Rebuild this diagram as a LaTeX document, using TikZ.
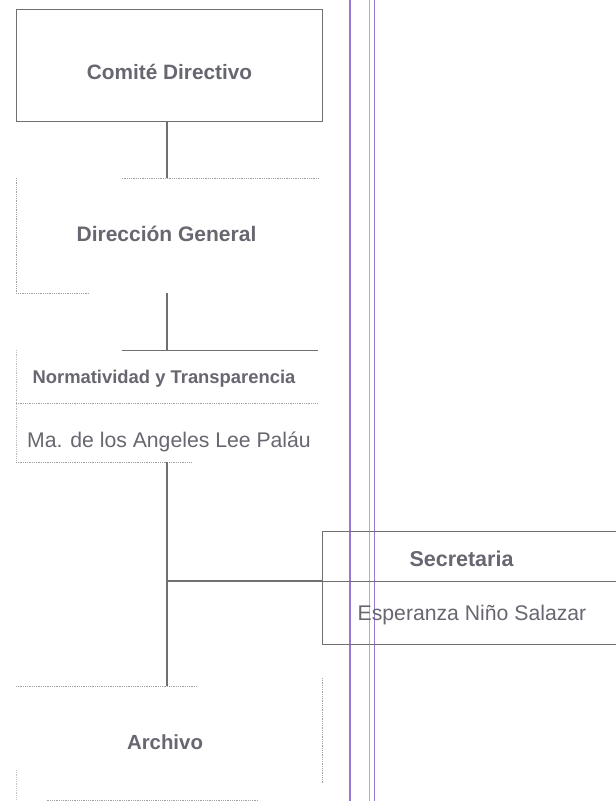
\documentclass[tikz,border=0pt]{standalone}
\usepackage{fontspec}
\setmainfont{Liberation Sans}
\usetikzlibrary{calc}
\definecolor{inkgray}{RGB}{104,102,112}
\definecolor{linegray}{RGB}{112,112,116}
\definecolor{faintgray}{RGB}{160,160,168}
\definecolor{rulepurple}{RGB}{150,120,215}
\definecolor{rulelilac}{RGB}{185,165,230}
\tikzset{
  frame/.style={draw=none, minimum width=#1, inner sep=0pt, outer sep=0pt},
  title/.style={anchor=base, text=inkgray, font=\bfseries\fontsize{21}{24}\selectfont, inner sep=0pt},
  person/.style={anchor=base, text=inkgray, font=\fontsize{21.2}{24}\selectfont, inner sep=0pt},
  solidedge/.style={draw=linegray, line width=0.9pt},
  softedge/.style={draw=faintgray, line width=0.8pt, densely dotted},
  link/.style={draw=linegray, line width=1.3pt},
}
\begin{document}
\begin{tikzpicture}[x=1pt,y=-1pt]
  \fill[white] (0,0) rectangle (616,801);
  \useasboundingbox (0,0) rectangle (616,801);

  % margin rules of the sheet
  \draw[rulepurple, line width=1.4pt] (350,0) -- (350,801);
  \draw[rulelilac, line width=0.9pt] (369,0) -- (369,801);
  \draw[rulepurple, line width=1.0pt] (374,0) -- (374,801);

  % Comité Directivo
  \node[frame=306pt, minimum height=112pt, solidedge] (cd) at (169,65) {};
  \node[title, font=\bfseries\fontsize{20.8}{24}\selectfont] (cdt) at (169.5,79) {Comité Directivo};

  % Dirección General
  \node[frame=302pt, minimum height=115pt] (dg) at (167,235.5) {};
  \node[title] (dgt) at (166.5,241) {Dirección General};
  \draw[softedge] ($(dg.north west)!0.35!(dg.north east)$) -- (dg.north east);
  \draw[softedge] (dg.north west) -- (dg.south west) -- ($(dg.south west)!0.24!(dg.south east)$);

  % Normatividad y Transparencia
  \node[frame=302pt, minimum height=53pt] (ntt) at (167,376.5) {};
  \node[frame=302pt, minimum height=59pt] (ntn) at (167,432.5) {};
  \node[title, font=\bfseries\fontsize{18.4}{22}\selectfont] (nttx) at (164,383) {Normatividad y Transparencia};
  \node[person] (ntnx) at (169,447) {Ma. de los Angeles Lee Paláu};
  \draw[solidedge, line width=0.7pt] ($(ntt.north west)!0.35!(ntt.north east)$) -- (ntt.north east);
  \draw[softedge, draw=faintgray!70] (ntt.north west) -- (ntn.south west);
  \draw[softedge] (ntt.south west) -- (ntt.south east);
  \draw[softedge] (ntn.south west) -- ($(ntn.south west)!0.58!(ntn.south east)$);

  % Secretaria
  \node[frame=300pt, minimum height=50pt, anchor=north west] (sct) at (322,531) {};
  \node[frame=300pt, minimum height=63pt, anchor=north west] (scn) at (322,581) {};
  \node[title, font=\bfseries\fontsize{21.5}{24}\selectfont] (sctx) at (461.5,566) {Secretaria};
  \node[person] (scnx) at (472,620) {Esperanza Niño Salazar};
  \draw[solidedge] (sct.north east) -- (sct.north west) -- (scn.south west) -- (scn.south east);
  \draw[solidedge] (sct.south west) -- (sct.south east);

  % Archivo
  \node[frame=306pt, minimum height=114pt] (ar) at (169,743) {};
  \node[title, font=\bfseries\fontsize{20.4}{24}\selectfont] (art) at (165,749) {Archivo};
  \draw[softedge] (ar.north west) -- ($(ar.north west)!0.59!(ar.north east)$);
  \draw[softedge] ($(ar.north east)+(0,-8)$) -- ($(ar.south east)+(0,-17)$);
  \draw[softedge] ($(ar.south west)!0.10!(ar.south east)$) -- ($(ar.south west)!0.79!(ar.south east)$);
  \draw[softedge, draw=faintgray!60] ($(ar.south west)+(0,-30)$) -- (ar.south west);

  % reporting lines
  \draw[link] (cd.south -| dg.north) -- (dg.north);
  \draw[link] (dg.south) -- (ntt.north);
  \draw[link] (ntn.south) -- (ar.north -| ntn.south);
  \draw[link, line width=1.8pt] (ntn.south |- sct.south west) -- (sct.south west);
\end{tikzpicture}
\end{document}
